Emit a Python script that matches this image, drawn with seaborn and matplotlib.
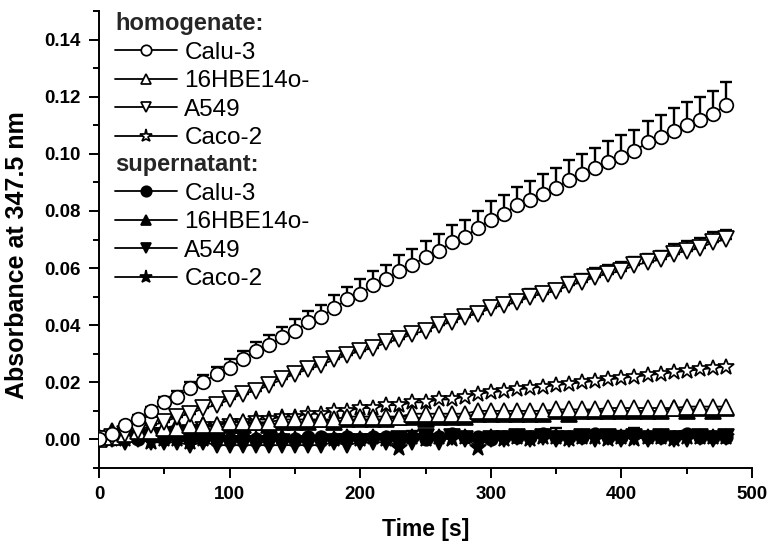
import matplotlib
matplotlib.use("Agg")
import matplotlib.pyplot as plt
import seaborn as sns
import numpy as np
import pandas as pd
from matplotlib.lines import Line2D
from matplotlib.ticker import MultipleLocator

# ---------------- data ----------------
time = list(range(0, 490, 10))

calu_h = [0.000,0.002,0.005,0.007,0.010,0.013,0.015,0.018,0.020,0.023,
          0.025,0.028,0.031,0.033,0.036,0.038,0.041,0.043,0.046,0.049,
          0.051,0.054,0.056,0.059,0.061,0.064,0.066,0.069,0.071,0.074,
          0.077,0.079,0.082,0.084,0.086,0.088,0.091,0.093,0.095,0.097,
          0.099,0.101,0.104,0.106,0.108,0.110,0.112,0.114,0.117]
calu_h_err = [0.0005,0.001,0.001,0.0015,0.0015,0.002,0.002,0.002,0.0025,0.0025,
              0.003,0.003,0.003,0.0035,0.0035,0.004,0.004,0.004,0.0045,0.0045,
              0.005,0.005,0.005,0.0055,0.0055,0.0055,0.006,0.006,0.006,0.006,
              0.0065,0.0065,0.0065,0.0065,0.007,0.007,0.007,0.007,0.007,0.0075,
              0.0075,0.0075,0.0075,0.0075,0.008,0.008,0.008,0.008,0.008]

hbe_h = [0.000,0.001,0.002,0.003,0.003,0.004,0.004,0.005,0.005,0.005,
         0.006,0.006,0.006,0.006,0.007,0.007,0.007,0.007,0.007,0.008,
         0.008,0.008,0.008,0.008,0.009,0.009,0.009,0.009,0.009,0.010,
         0.010,0.010,0.010,0.010,0.010,0.0105,0.0105,0.0105,0.0105,0.011,
         0.011,0.011,0.011,0.011,0.011,0.0115,0.0115,0.0115,0.0115]

a549_h = [0.000,0.001,0.002,0.003,0.005,0.006,0.008,0.009,0.011,0.012,
          0.014,0.016,0.017,0.019,0.021,0.023,0.0245,0.026,0.028,0.0295,
          0.031,0.032,0.034,0.035,0.037,0.038,0.040,0.041,0.043,0.044,
          0.046,0.047,0.048,0.050,0.051,0.052,0.054,0.055,0.057,0.058,
          0.059,0.061,0.062,0.063,0.065,0.066,0.067,0.069,0.070]
a549_h_err = [0.000,0.0005,0.0005,0.001,0.001,0.001,0.001,0.001,0.001,0.0015,
              0.0015,0.0015,0.0015,0.0015,0.0015,0.0015,0.002,0.002,0.002,0.002,
              0.002,0.002,0.002,0.002,0.002,0.002,0.002,0.002,0.002,0.0025,
              0.0025,0.0025,0.0025,0.0025,0.0025,0.0025,0.003,0.003,0.003,0.003,
              0.003,0.003,0.003,0.003,0.0035,0.0035,0.0035,0.0035,0.0035]

caco_h = [0.000,0.001,0.001,0.002,0.002,0.003,0.003,0.004,0.005,0.005,
          0.006,0.006,0.007,0.007,0.008,0.008,0.009,0.009,0.010,0.010,
          0.011,0.011,0.012,0.012,0.013,0.013,0.014,0.014,0.015,0.016,
          0.0165,0.017,0.0175,0.018,0.0185,0.019,0.0195,0.020,0.0205,0.021,
          0.0215,0.022,0.0225,0.023,0.0235,0.024,0.0245,0.025,0.0255]

calu_s = [0.000,0.000,0.001,0.000,0.001,0.000,0.001,0.000,0.000,0.001,
          0.000,0.001,0.000,0.001,0.000,0.000,0.001,0.001,0.000,0.001,
          0.000,0.001,0.001,0.000,0.001,0.000,0.001,0.002,0.001,0.001,
          0.000,0.001,0.001,0.001,0.002,0.001,0.001,0.001,0.002,0.001,
          0.001,0.002,0.001,0.001,0.001,0.002,0.001,0.001,0.001]
calu_s_err = [0,0,0,0,0,0,0,0,0,0,
              0,0,0.001,0,0,0,0,0,0,0,
              0,0,0,0.002,0.002,0.002,0.001,0.001,0,0,
              0,0,0,0.001,0.001,0.003,0.001,0.001,0.001,0.001,
              0.002,0.002,0.001,0.002,0.001,0.001,0.001,0.001,0.001]

hbe_s = [0.001,0.003,0.002,0.003,0.004,0.004,0.005,0.004,0.005,0.004,
         0.005,0.005,0.006,0.005,0.006,0.006,0.006,0.007,0.006,0.007,
         0.007,0.007,0.007,0.008,0.008,0.007,0.008,0.008,0.008,0.009,
         0.009,0.009,0.009,0.009,0.009,0.010,0.009,0.010,0.010,0.010,
         0.010,0.010,0.010,0.010,0.011,0.010,0.011,0.010,0.011]

a549_s = [0.000,0.000,-0.001,0.000,-0.001,-0.001,-0.001,-0.002,-0.001,-0.002,
          -0.002,-0.002,-0.002,-0.002,-0.002,-0.002,-0.002,-0.002,-0.001,-0.002,
          -0.001,-0.001,-0.001,0.000,-0.001,0.001,-0.001,0.001,0.000,-0.001,
          0.000,0.000,0.001,0.000,0.001,0.000,0.000,0.001,0.000,0.001,
          0.000,0.001,0.000,0.001,0.000,0.000,0.001,0.000,0.001]

caco_s = [0.000,0.000,0.000,0.001,-0.001,0.000,0.000,-0.001,0.000,0.000,
          0.000,0.000,0.000,0.000,0.001,0.000,0.000,0.000,0.000,0.001,
          0.000,0.001,0.000,-0.003,0.001,0.000,0.001,0.000,0.001,-0.003,
          0.001,0.000,0.001,0.000,0.001,0.001,0.000,0.001,0.001,0.000,
          0.001,0.000,0.001,0.001,0.000,0.001,0.001,0.001,0.001]

cell_lines = ["Calu-3", "16HBE14o-", "A549", "Caco-2"]
x_label = "Time [s]"
y_label = "Absorbance at 347.5 nm"

# ---------------- style ----------------
sns.set_theme(style="ticks")
plt.rcParams["font.family"] = ["Liberation Sans", "DejaVu Sans"]
plt.rcParams["axes.linewidth"] = 1.4

fig = plt.figure(figsize=(7.72, 5.46), dpi=100)
W, H = 772, 546
ax = fig.add_axes([99 / W, 1 - 468 / H, (752 - 99) / W, (468 - 11) / H])

MS = 9.8
MS_TRI = 11.0
MS_STAR = 12.0
MEW = 1.25
LW = 1.3

def draw(y, marker, filled, err=None, ms=MS, z=3):
    df = pd.DataFrame({"t": time, "v": y})
    if err is not None:
        ax.errorbar(time, y, yerr=[np.zeros(len(err)), err], fmt="none",
                    ecolor="black", elinewidth=1.7, capsize=4.2, capthick=1.7,
                    zorder=z - 0.5)
    sns.lineplot(data=df, x="t", y="v", ax=ax, color="black", linewidth=LW,
                 marker=marker, markersize=ms,
                 markerfacecolor="black" if filled else "white",
                 markeredgecolor="black", markeredgewidth=MEW,
                 errorbar=None, zorder=z)

# supernatant (filled)
draw(a549_s, "v", True, ms=MS_TRI, z=2)
draw(calu_s, "o", True, calu_s_err, ms=9.0, z=2)
draw(caco_s, "*", True, ms=MS_STAR, z=2)
draw(hbe_s, "^", True, ms=MS_TRI, z=2)
# homogenate (open)
draw(caco_h, "*", False, ms=MS_STAR, z=4)
draw(hbe_h, "^", False, ms=MS_TRI, z=4)
draw(a549_h, "v", False, a549_h_err, ms=MS_TRI, z=5)
draw(calu_h, "o", False, calu_h_err, ms=MS, z=6)

ax.set_xlim(0, 500)
ax.set_ylim(-0.01, 0.15)
ax.xaxis.set_major_locator(MultipleLocator(100))
ax.xaxis.set_minor_locator(MultipleLocator(50))
ax.yaxis.set_minor_locator(MultipleLocator(0.01))
ax.set_yticks([0.00, 0.02, 0.04, 0.06, 0.08, 0.10, 0.12, 0.14])
ax.set_yticklabels(["0.00", "0.02", "0.04", "0.06", "0.08", "0.10", "0.12", "0.14"])
ax.tick_params(axis="both", which="major", direction="out", length=7, width=1.4,
               labelsize=13.5, pad=6, color="black", labelcolor="black")
ax.tick_params(axis="both", which="minor", direction="out", length=4.5, width=1.4,
               color="black")
for lab in ax.get_xticklabels() + ax.get_yticklabels():
    lab.set_fontweight("bold")
sns.despine(ax=ax)
ax.spines["left"].set_color("black")
ax.spines["bottom"].set_color("black")

ax.set_xlabel(x_label, fontsize=16.5, fontweight="bold", color="black", labelpad=11)
ax.set_ylabel(y_label, fontsize=18, fontweight="bold", color="black")
ax.yaxis.set_label_coords(-0.107, 0.466)

# ---------------- legends ----------------
def handles(filled):
    mk = ["o", "^", "v", "*"]
    return [Line2D([], [], color="black", linewidth=LW, marker=m,
                   markersize=(7.5 if m != "*" else 9.5),
                   markerfacecolor="black" if filled else "white",
                   markeredgecolor="black", markeredgewidth=MEW) for m in mk]

common = dict(loc="upper left", frameon=False, fontsize=17.5, handlelength=2.55,
              handletextpad=0.3, labelspacing=0.27, borderpad=0.0,
              borderaxespad=0.0, title_fontproperties={"weight": "bold", "size": 17},
              bbox_transform=fig.transFigure, alignment="left")
leg1 = ax.legend(handles(False), cell_lines, title="homogenate:",
                 bbox_to_anchor=(115 / W, 1 - 12 / H), **common)
ax.add_artist(leg1)
leg2 = ax.legend(handles(True), cell_lines, title="supernatant:",
                 bbox_to_anchor=(115 / W, 1 - 153 / H), **common)
for lg in (leg1, leg2):
    for t in lg.get_texts():
        t.set_color("black")

fig.savefig("out.png", dpi=100, facecolor="white")
